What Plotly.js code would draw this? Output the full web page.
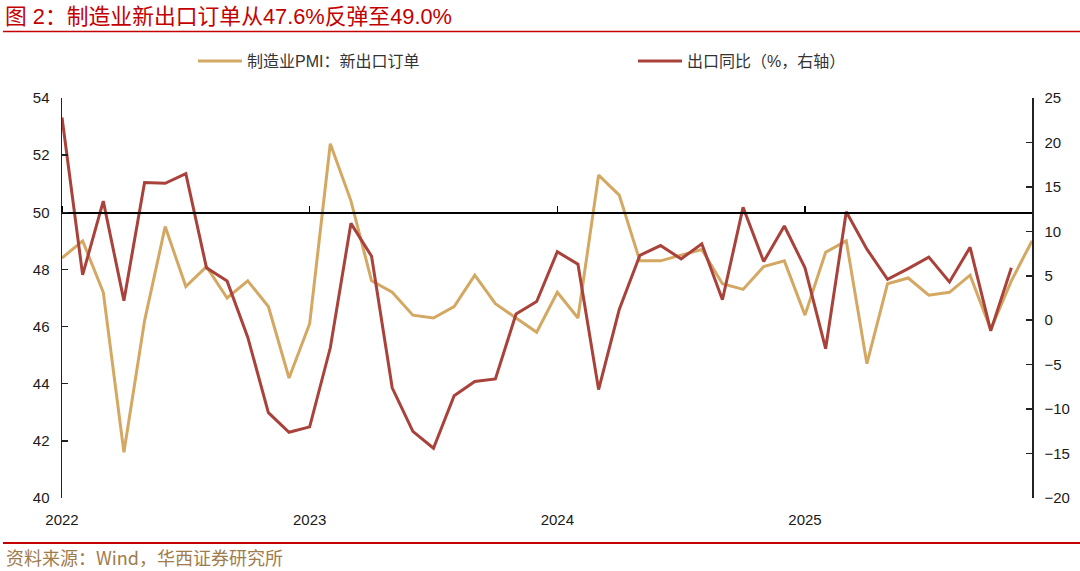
<!DOCTYPE html>
<html>
<head>
<meta charset="utf-8">
<script src="https://cdn.plot.ly/plotly-3.0.1.min.js"></script>
<style>html,body{margin:0;padding:0;background:#fff;}#chart{width:1080px;height:571px;}</style>
</head>
<body>
<div id="chart"></div>
<script>
// ---- data ----
const months = [
  "2022-01","2022-02","2022-03","2022-04","2022-05","2022-06","2022-07","2022-08","2022-09","2022-10","2022-11","2022-12",
  "2023-01","2023-02","2023-03","2023-04","2023-05","2023-06","2023-07","2023-08","2023-09","2023-10","2023-11","2023-12",
  "2024-01","2024-02","2024-03","2024-04","2024-05","2024-06","2024-07","2024-08","2024-09","2024-10","2024-11","2024-12",
  "2025-01","2025-02","2025-03","2025-04","2025-05","2025-06","2025-07","2025-08","2025-09","2025-10","2025-11","2025-12"
];
const pmiNewExport = [
  48.4, 49.0, 47.2, 41.6, 46.2, 49.5, 47.4, 48.1, 47.0, 47.6, 46.7, 44.2,
  46.1, 52.4, 50.4, 47.6, 47.2, 46.4, 46.3, 46.7, 47.8, 46.8, 46.3, 45.8,
  47.2, 46.3, 51.3, 50.6, 48.3, 48.3, 48.5, 48.7, 47.5, 47.3, 48.1, 48.3,
  46.4, 48.6, 49.0, 44.7, 47.5, 47.7, 47.1, 47.2, 47.8, 45.9, 47.6, 49.0
];
const exportYoY = [
  22.8, 5.1, 13.4, 2.2, 15.5, 15.4, 16.5, 5.9, 4.4, -1.9, -10.4, -12.6,
  -12.0, -3.1, 10.9, 7.2, -7.6, -12.5, -14.4, -8.5, -6.9, -6.6, 0.7, 2.1,
  7.7, 6.3, -7.8, 1.2, 7.3, 8.4, 6.9, 8.6, 2.3, 12.7, 6.6, 10.6,
  5.9, -3.2, 12.2, 8.0, 4.6, 5.8, 7.1, 4.3, 8.2, -1.2, 5.9, null
];
const yearTickMonths = ["2022-01","2023-01","2024-01","2025-01"];
const yearTickLabels = ["2022","2023","2024","2025"];
const seriesNames = ["制造业PMI：新出口订单", "出口同比（%，右轴）"];

// ---- layout geometry ----
const W = 1080, H = 571;
const mL = 62, mR = 48, mT = 98, mB = 73;
const plotW = W - mL - mR, plotH = H - mT - mB;
const px2x = p => (p - mL) / plotW;
const px2y = p => (H - mB - p) / plotH;

const tickFont = {family: 'Arial, "Liberation Sans", sans-serif', size: 15, color: '#1a1a1a'};
const cjk = 'Arial, "Liberation Sans", "Noto Sans CJK SC", sans-serif';

const traces = [
  {
    x: months, y: pmiNewExport, name: seriesNames[0], type: 'scatter', mode: 'lines',
    line: {color: '#D4A862', width: 3}, xaxis: 'x', yaxis: 'y', legend: 'legend'
  },
  {
    x: months, y: exportYoY, name: seriesNames[1], type: 'scatter', mode: 'lines',
    line: {color: '#A8423A', width: 3}, xaxis: 'x2', yaxis: 'y2', connectgaps: false, legend: 'legend2'
  }
];

const legendBase = {
  orientation: 'h', xanchor: 'left', y: px2y(61), yanchor: 'middle',
  font: {family: cjk, size: 16, color: '#333'},
  itemwidth: 44, bgcolor: 'rgba(0,0,0,0)'
};

const layout = {
  width: W, height: H,
  margin: {l: mL, r: mR, t: mT, b: mB, pad: 0},
  paper_bgcolor: '#fff', plot_bgcolor: '#fff',
  showlegend: true,
  title: {
    text: '图 2：制造业新出口订单从47.6%反弹至49.0%',
    x: 5 / W, xanchor: 'left', xref: 'container',
    y: 1 - 16 / H, yanchor: 'middle', yref: 'container',
    font: {family: cjk, size: 21.8, color: '#C40000'}
  },
  xaxis: {
    type: 'category', range: [0, months.length - 1],
    tickvals: yearTickMonths, ticktext: yearTickLabels,
    showline: false, showgrid: false, zeroline: false, ticks: '',
    tickfont: tickFont, ticklabelstandoff: 11, fixedrange: true
  },
  xaxis2: {
    type: 'category', overlaying: 'x', anchor: 'free', side: 'top',
    position: (50 - 40) / (54 - 40),
    range: [0, months.length - 1],
    tickvals: yearTickMonths, showticklabels: false,
    showline: true, linecolor: '#000', linewidth: 1.5,
    ticks: 'outside', ticklen: 6, tickwidth: 1.5, tickcolor: '#000',
    showgrid: false, zeroline: false
  },
  yaxis: {
    range: [40, 54], dtick: 2, tick0: 40,
    showline: true, linecolor: '#222', linewidth: 1.5,
    ticks: 'inside', ticklen: 6, tickwidth: 1.5, tickcolor: '#222',
    showgrid: false, zeroline: false, tickfont: tickFont, ticklabelstandoff: 8
  },
  yaxis2: {
    range: [-20, 25], dtick: 5, tick0: -20,
    overlaying: 'y', side: 'right', anchor: 'x2',
    showline: true, linecolor: '#222', linewidth: 1.5,
    ticks: 'inside', ticklen: 6, tickwidth: 1.5, tickcolor: '#222',
    showgrid: false, zeroline: false, tickfont: tickFont, ticklabelstandoff: 8
  },
  legend: Object.assign({}, legendBase, {x: px2x(193)}),
  legend2: Object.assign({}, legendBase, {x: px2x(633)}),
  shapes: [
    {type: 'line', xref: 'paper', yref: 'paper', x0: px2x(3), x1: px2x(1080), y0: px2y(31.5), y1: px2y(31.5),
     line: {color: '#C40000', width: 1.5}},
    {type: 'line', xref: 'paper', yref: 'paper', x0: px2x(3), x1: px2x(1080), y0: px2y(543), y1: px2y(543),
     line: {color: '#C40000', width: 2}}
  ],
  annotations: [
    {text: '资料来源：Wind，华西证券研究所', xref: 'paper', yref: 'paper',
     x: px2x(4), y: px2y(557), xanchor: 'left', yanchor: 'middle', showarrow: false,
     font: {family: '"Noto Sans CJK SC", sans-serif', size: 18, color: '#A07C4C'}}
  ]
};

Plotly.newPlot('chart', traces, layout, {displayModeBar: false, staticPlot: true});
</script>
</body>
</html>
